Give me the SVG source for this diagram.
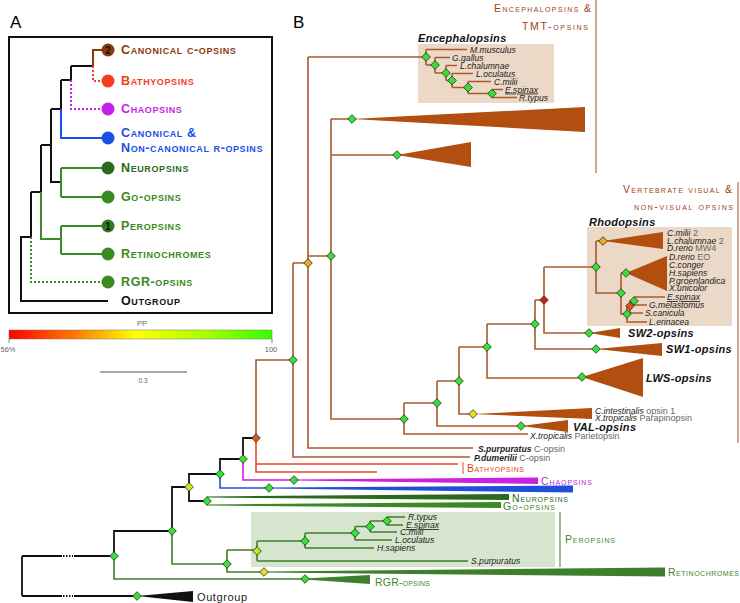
<svg xmlns="http://www.w3.org/2000/svg" width="740" height="603" viewBox="0 0 740 603">
<defs>
<linearGradient id="pp" x1="0" x2="1" y1="0" y2="0">
<stop offset="0" stop-color="#ff0000"/>
<stop offset="0.25" stop-color="#ff7a00"/>
<stop offset="0.48" stop-color="#ffff00"/>
<stop offset="0.75" stop-color="#a8ff00"/>
<stop offset="1" stop-color="#33ff00"/>
</linearGradient>
<path id="dm" d="M0,-4.3L4.3,0L0,4.3L-4.3,0Z"/>
</defs>
<style>
text{font-family:"Liberation Sans",Arial,sans-serif}
.scA{font-variant:small-caps;font-weight:bold;font-size:12.5px;letter-spacing:0.6px}
.scB{font-variant:small-caps;font-size:10.5px}
.bi{font-weight:bold;font-style:italic;font-size:11px;fill:#111;letter-spacing:0.3px}
.sp{font-style:italic;font-size:8.6px;fill:#222}
.spb{font-style:italic;font-weight:bold;font-size:8.6px;fill:#222}
.gn{font-size:9px;fill:#666;font-style:normal;font-weight:normal}
.br{fill:none;stroke:#a9592c;stroke-width:1.6}
.tri{fill:#b24e0f}
.k{fill:none;stroke:#111;stroke-width:1.8}
.kd{fill:none;stroke:#111;stroke-width:1.8;stroke-dasharray:1.5 1.5}
.gl{fill:none;stroke:#3d7f2a;stroke-width:1.6}
.d{stroke:#163016;stroke-width:0.8}
.dg{fill:#37e037}.dy{fill:#f0dc1e}.dyg{fill:#c4ea1e}.do{fill:#f5a623}.dr{fill:#e01515}.dro{fill:#e8501a}
</style>
<rect width="740" height="603" fill="#fff"/>

<g id="panelA">
<text x="10" y="28" font-size="17">A</text>
<rect x="9" y="37" width="263" height="276" fill="none" stroke="#111" stroke-width="2"/>
<g id="A-connectors" fill="none" stroke-width="2">
<path stroke="#111" d="M93,66H71M71,66V80M71,80H61M61,80V109M61,109H51M51,109V182H61M51,145H41M41,145V192M41,192H31M31,192V237M31,237H21V301H108"/>
<path stroke="#8b3a0f" d="M93,66V50H102"/>
<path stroke="#f53d1f" stroke-dasharray="2 2" d="M93,66V81H102"/>
<path stroke="#c81fe6" stroke-dasharray="2 2" d="M71,80V109H102"/>
<path stroke="#1a4fe8" d="M61,109V138H102"/>
<path stroke="#3a8a2a" d="M61,168V197M61,168H102M61,197H102M41,192V239H61M61,226V254M61,226H102M61,254H102"/>
<path stroke="#3a8a2a" stroke-dasharray="2 2" d="M31,237V282H102"/>
</g>
<g id="A-c-opsins"><circle cx="108" cy="50" r="6.5" fill="#8b3a0f"/><text x="108" y="53.5" font-size="10" font-weight="bold" text-anchor="middle" fill="#111">2</text><text class="scA" x="121" y="54" fill="#8b3a0f">Canonical c-opsins</text></g>
<g id="A-bathy"><circle cx="108" cy="81" r="6.5" fill="#f53d1f"/><text class="scA" x="121" y="85" fill="#f53d1f">Bathyopsins</text></g>
<g id="A-chao"><circle cx="108" cy="109" r="6.5" fill="#c81fe6"/><text class="scA" x="121" y="113" fill="#c81fe6">Chaopsins</text></g>
<g id="A-r-opsins"><circle cx="108" cy="138" r="6.5" fill="#1a4fe8"/><text class="scA" x="121" y="137" fill="#1a4fe8">Canonical &amp;</text><text class="scA" x="121" y="152" fill="#1a4fe8">Non-canonical r-opsins</text></g>
<g id="A-neuro"><circle cx="108" cy="168" r="6.5" fill="#2a6a1c"/><text class="scA" x="121" y="172" fill="#2a6a1c">Neuropsins</text></g>
<g id="A-go"><circle cx="108" cy="197" r="6.5" fill="#3a8a22"/><text class="scA" x="121" y="201" fill="#3a8a22">Go-opsins</text></g>
<g id="A-pero"><circle cx="108" cy="226" r="6.5" fill="#2f7a1e"/><text x="108" y="229.5" font-size="10" font-weight="bold" text-anchor="middle" fill="#111">1</text><text class="scA" x="121" y="230" fill="#3a8a22">Peropsins</text></g>
<g id="A-retino"><circle cx="108" cy="254" r="6.5" fill="#3a8a22"/><text class="scA" x="121" y="258" fill="#3a8a22">Retinochromes</text></g>
<g id="A-rgr"><circle cx="108" cy="282" r="6.5" fill="#3a8a22"/><text class="scA" x="121" y="286" fill="#3a8a22">RGR-opsins</text></g>
<g id="A-out"><text class="scA" x="121" y="305" fill="#111">Outgroup</text></g>
</g>

<g id="legend">
<text x="142" y="326" font-size="7.5" fill="#666" text-anchor="middle">PP</text>
<rect x="9" y="330" width="263" height="9" fill="url(#pp)" stroke="#777" stroke-width="0.5"/>
<path d="M9,339V343M272,339V343" stroke="#666" stroke-width="0.8"/>
<text x="8" y="352" font-size="7.5" fill="#666" text-anchor="middle">56%</text>
<text x="271" y="352" font-size="7.5" fill="#666" text-anchor="middle">100</text>
<path d="M100,372H187" stroke="#555" stroke-width="1"/>
<text x="143" y="383" font-size="6.5" fill="#666" text-anchor="middle">0.3</text>
</g>

<text x="293" y="28" font-size="17">B</text>

<g id="boxes">
<rect x="418" y="44" width="136" height="59" fill="#ecd8c6"/>
<rect x="587" y="227" width="145" height="99" fill="#ecd8c6"/>
<rect x="251" y="512" width="304" height="55" fill="#d6e6ce"/>
</g>

<g id="connectors">
<path class="k" d="M22,556V596M22,556H62M74,556H114M22,596H62M74,596H137M114,556V531H172M172,531V487H189M189,487V474H220M189,487V501H207M220,474V459H243M243,459V438H256"/>
<path class="kd" d="M63,556H73M63,596H73"/>
<path class="gl" d="M114,556V579H305M172,531V564H227M227,550V572H264M227,550H257M257,541V561M257,541H305M257,561H468"/>
<path fill="none" stroke="#2a6a1c" stroke-width="1.6" d="M207,497V505"/>
<path fill="none" stroke="#1f4fd8" stroke-width="1.6" d="M220,474V488H269"/>
<path fill="none" stroke="#cc1fe0" stroke-width="1.6" d="M243,459V480H294"/>
<path fill="none" stroke="#e8462a" stroke-width="1.6" d="M256,438V472H377M256,464H458"/>
<path class="br" d="M256,438V360H293M293,263V457H470M293,263H308M308,57V448H473M308,57H426M308,256H331M331,119V419H404M331,119H352M331,155H397M404,403V434H528M404,403H437M437,381V426H521M437,381H459M459,347V414H473M459,347H487M487,324V378H582M487,324H535M535,300V349H596M535,300H544M544,267V333H589M544,267H596M596,241V293H621M596,241H603M621,273V314H627M621,273H626M627,306V322H647M627,306H630M630,301V313H643M630,301H634M634,297V305H647M634,297H665"/>
<path class="br" stroke-width="1.3" d="M426,49.5V65M426,49.5H467M426,65H435M435,57.5V73M435,57.5H450M435,73H446M446,65.5V80.5M446,65.5H457M446,80.5H452M452,73.5V87.5M452,73.5H473M452,87.5H468M468,81.5V93.5M468,81.5H491M468,93.5H492M492,89.5V97.5M492,89.5H503M492,97.5H517"/>
<path class="gl" stroke-width="1.3" d="M305,533V548M305,533H355M305,548H374M355,526.5V540M355,526.5H370M355,540H392M370,521V532M370,521H387M370,532H397M387,517V525M387,517H405M387,525H403"/>
<path fill="none" stroke="#a0522d" stroke-width="1" d="M596,0V173M738,182V443"/>
<path fill="none" stroke="#3d7f2a" stroke-width="1" d="M560,512V567"/>
<path fill="none" stroke="#e8462a" stroke-width="1" d="M463,462V474"/>
</g>

<g id="clades">
<polygon class="tri" points="352,119 585,107 585,132"/>
<polygon class="tri" points="397,155 471,142 471,167"/>
<polygon class="tri" points="603,241 663,232 663,249"/>
<polygon class="tri" points="626,273 667,256 667,291"/>
<polygon class="tri" points="589,333 620,328 620,338"/>
<polygon class="tri" points="596,349 662,343 662,356"/>
<polygon class="tri" points="582,377 643,358 643,397"/>
<polygon class="tri" points="473,414 592,408 592,419"/>
<polygon class="tri" points="521,426 568,420 568,432"/>
<polygon fill="#cc1fe0" points="294,479.5 538,477.5 538,484 294,480.6"/>
<polygon fill="#1f4fd8" points="269,487.4 573,485.5 573,492.5 269,488.6"/>
<polygon fill="#2a6a1c" points="207,496.4 509,494 509,500 207,497.6"/>
<polygon fill="#3a8a24" points="207,504.4 501,502 501,508 207,505.6"/>
<polygon fill="#3d7f2a" points="264,571.4 665,567.5 665,576.5 264,572.6"/>
<polygon fill="#3d7f2a" points="305,578.4 370,575 370,584 305,579.6"/>
<polygon fill="#111" points="137,596 193,591 193,602"/>
</g>

<g id="nodes" class="d">
<use href="#dm" x="426" y="57" class="dg"/><use href="#dm" x="435" y="65" class="dg"/><use href="#dm" x="446" y="73" class="dg"/><use href="#dm" x="452" y="80.5" class="dg"/><use href="#dm" x="468" y="87.5" class="dg"/><use href="#dm" x="492" y="93.5" class="dg"/>
<use href="#dm" x="352" y="119" class="dg"/><use href="#dm" x="397" y="155" class="dg"/>
<use href="#dm" x="308" y="263" class="do"/><use href="#dm" x="331" y="256" class="dg"/><use href="#dm" x="293" y="360" class="dg"/><use href="#dm" x="256" y="438" class="dro"/>
<use href="#dm" x="243" y="459" class="dg"/><use href="#dm" x="220" y="474" class="dg"/><use href="#dm" x="189" y="487" class="dyg"/><use href="#dm" x="207" y="501" class="dg"/><use href="#dm" x="172" y="531" class="dg"/><use href="#dm" x="114" y="556" class="dg"/><use href="#dm" x="137" y="596" class="dg"/>
<use href="#dm" x="227" y="564" class="dg"/><use href="#dm" x="257" y="551" class="dyg"/><use href="#dm" x="264" y="572" class="dy"/><use href="#dm" x="305" y="579" class="dg"/>
<use href="#dm" x="294" y="480" class="dg"/><use href="#dm" x="269" y="488" class="dg"/>
<use href="#dm" x="404" y="419" class="dg"/><use href="#dm" x="437" y="403" class="dg"/><use href="#dm" x="459" y="381" class="dg"/><use href="#dm" x="473" y="414" class="dy"/><use href="#dm" x="521" y="426" class="dg"/><use href="#dm" x="487" y="347" class="dg"/><use href="#dm" x="535" y="324" class="dg"/><use href="#dm" x="544" y="300" class="dr"/>
<use href="#dm" x="596" y="267" class="dg"/><use href="#dm" x="603" y="241" class="do"/><use href="#dm" x="626" y="273" class="dg"/><use href="#dm" x="621" y="293" class="dg"/><use href="#dm" x="634" y="301" class="dg"/><use href="#dm" x="630" y="306" class="dro"/><use href="#dm" x="627" y="314" class="dg"/>
<use href="#dm" x="589" y="333" class="dg"/><use href="#dm" x="596" y="349" class="dg"/><use href="#dm" x="582" y="377" class="dg"/>
<use href="#dm" x="305" y="541" class="dg"/><use href="#dm" x="355" y="533" class="dg"/><use href="#dm" x="370" y="526.5" class="dg"/><use href="#dm" x="387" y="521" class="dg"/>
</g>

<g id="enceph-labels">
<text class="scB" x="591" y="12" text-anchor="end" fill="#a0401a" font-size="11" textLength="97">Encephalopsins &amp;</text>
<text class="scB" x="588" y="30" text-anchor="end" fill="#a0401a" font-size="11" textLength="66">TMT-opsins</text>
<text class="bi" x="418" y="42">Encephalopsins</text>
<text class="sp" x="470" y="52.5">M.musculus</text>
<text class="sp" x="452" y="60.5">G.gallus</text>
<text class="sp" x="460" y="68.5">L.chalumnae</text>
<text class="sp" x="476" y="76.5">L.oculatus</text>
<text class="sp" x="494" y="84.5">C.milii</text>
<text class="sp" x="505" y="92.5" text-decoration="underline">E.spinax</text>
<text class="sp" x="519" y="100.5">R.typus</text>
</g>

<g id="vert-labels">
<text class="scB" x="623" y="193" fill="#a0401a" font-size="11" textLength="109">Vertebrate visual &amp;</text>
<text class="scB" x="634" y="210" fill="#a0401a" font-size="11" textLength="99">non-visual opsins</text>
<text class="bi" x="589" y="226">Rhodopsins</text>
<text x="667" y="236"><tspan class="sp">C.milii</tspan><tspan class="gn"> 2</tspan></text>
<text x="667" y="243.5"><tspan class="sp">L.chalumnae</tspan><tspan class="gn"> 2</tspan></text>
<text x="667" y="251"><tspan class="sp">D.rerio</tspan><tspan class="gn"> MW4</tspan></text>
<text x="669" y="260"><tspan class="sp">D.rerio</tspan><tspan class="gn"> EO</tspan></text>
<text class="sp" x="669" y="268">C.conger</text>
<text class="sp" x="669" y="276">H.sapiens</text>
<text class="sp" x="669" y="283.5">P.groenlandica</text>
<text class="sp" x="669" y="291">X.unicolor</text>
<text class="sp" x="667" y="300" text-decoration="underline">E.spinax</text>
<text class="sp" x="649" y="308">G.melastomus</text>
<text class="sp" x="645" y="316">S.canicula</text>
<text class="sp" x="649" y="325">L.erinacea</text>
<text class="bi" x="628" y="337">SW2-opsins</text>
<text class="bi" x="666" y="353">SW1-opsins</text>
<text class="bi" x="646" y="382">LWS-opsins</text>
<text x="595" y="413.5"><tspan class="sp" fill="#666">C.intestinalis</tspan><tspan class="gn"> opsin 1</tspan></text>
<text x="595" y="421"><tspan class="sp" fill="#666">X.tropicalis</tspan><tspan class="gn"> Parapinopsin</tspan></text>
<text class="bi" x="573" y="430.5">VAL-opsins</text>
<text x="530" y="438.5"><tspan class="sp">X.tropicalis</tspan><tspan class="gn"> Parietopsin</tspan></text>
<text x="478" y="452"><tspan class="spb">S.purpuratus</tspan><tspan class="gn"> C-opsin</tspan></text>
<text x="474" y="461"><tspan class="spb">P.dumerilii</tspan><tspan class="gn"> C-opsin</tspan></text>
</g>

<g id="group-labels">
<text class="scB" x="467" y="472" fill="#e8401e" textLength="57">Bathyopsins</text>
<text class="scB" x="541" y="485" fill="#c41fd8" textLength="51">Chaopsins</text>
<text class="scB" x="512" y="501.5" fill="#2a6a1c" font-size="10" textLength="56">Neuropsins</text>
<text class="scB" x="503" y="510" fill="#3a8224" font-size="10" textLength="52">Go-opsins</text>
<text class="scB" x="565" y="543" fill="#3c8a28" textLength="50">Peropsins</text>
<text class="scB" x="668" y="576" fill="#3c8a28" textLength="71">Retinochromes</text>
<text class="scB" x="375" y="586" fill="#3c8a28" textLength="55">RGR-opsins</text>
<text x="197" y="601" font-size="11" fill="#222" textLength="50">Outgroup</text>
</g>

<g id="pero-labels">
<text class="sp" x="408" y="520">R.typus</text>
<text class="sp" x="406" y="528" text-decoration="underline">E.spinax</text>
<text class="sp" x="400" y="535">C.milii</text>
<text class="sp" x="395" y="543">L.oculatus</text>
<text class="sp" x="377" y="551">H.sapiens</text>
<text class="sp" x="471" y="564">S.purpuratus</text>
</g>
</svg>
